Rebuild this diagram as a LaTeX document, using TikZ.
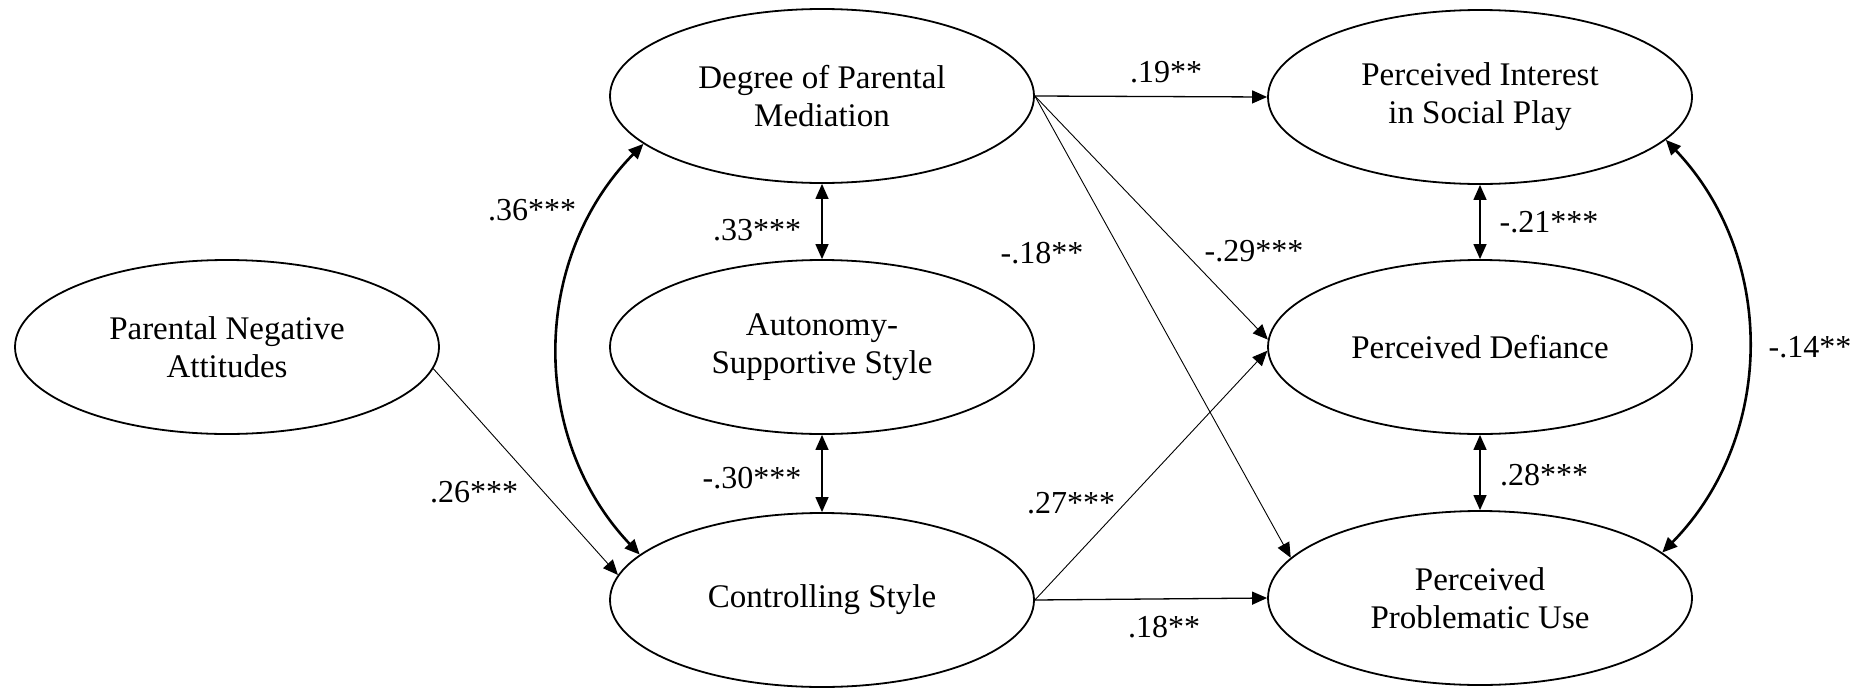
\documentclass[tikz,border=0pt]{standalone}
\usepackage{fontspec}
\setmainfont{Liberation Serif}
\usetikzlibrary{shapes.geometric, arrows.meta}

\tikzset{
  latent/.style={ellipse, draw, line width=1.8pt, minimum width=424pt, minimum height=174pt,
    inner sep=0pt, align=center, font=\fontsize{33}{38}\selectfont},
  coef/.style={font=\fontsize{32}{36}\selectfont, inner sep=0pt},
  regr/.style={->, line width=1.3pt},
  diag/.style={->, line width=0.9pt},
  corr/.style={<->, line width=1.3pt},
  bigcorr/.style={<->, line width=2.6pt},
}

\begin{document}
\begin{tikzpicture}[x=1pt, y=-1pt, >={Triangle[length=15pt, width=13pt]}]
\useasboundingbox (0,0) rectangle (1872,691);

% latente Variablen
\node[latent] (pna)  at (227,347)  {Parental Negative\\Attitudes};
\node[latent] (dpm)  at (822,96)   {Degree of Parental\\Mediation};
\node[latent] (ass)  at (822,347)  {Autonomy-\\Supportive Style};
\node[latent] (ctl)  at (822,600)  {Controlling Style};
\node[latent] (pisp) at (1480,97)  {Perceived Interest\\in Social Play};
\node[latent] (pdf)  at (1480,347) {Perceived Defiance};
\node[latent] (ppu)  at (1480,598) {Perceived\\Problematic Use};

% Regressionspfade
\draw[regr] (dpm.east) -- (pisp.west);
\draw[diag] (dpm.east) -- (pdf.178);
\draw[diag] (dpm.east) -- (ppu.168);
\draw[diag] (ctl.east) -- (pdf.181);
\draw[regr] (ctl.east) -- (ppu.west);
\draw[diag] (pna.-6) -- (ctl.173);

% Korrelationen
\draw[corr] (dpm.south) -- (ass.north);
\draw[corr] (ass.south) -- (ctl.north);
\draw[corr] (pisp.south) -- (pdf.north);
\draw[corr] (pdf.south) -- (ppu.north);
\draw[bigcorr] (dpm.195) to[bend right=44] (ctl.166);
\draw[bigcorr] (pisp.-13) to[bend left=44] (ppu.14);

% Koeffizienten
\node[coef] (c19)  at (1166,72)  {.19**};
\node[coef] (c29)  at (1254,251) {-.29***};
\node[coef] (c18a) at (1042,253) {-.18**};
\node[coef] (c27)  at (1071,503) {.27***};
\node[coef] (c18b) at (1164,627) {.18**};
\node[coef] (c26)  at (474,492)  {.26***};
\node[coef] (c36)  at (532,210)  {.36***};
\node[coef] (c33)  at (757,230)  {.33***};
\node[coef] (c30)  at (752,478)  {-.30***};
\node[coef] (c21)  at (1549,222) {-.21***};
\node[coef] (c28)  at (1544,475) {.28***};
\node[coef] (c14)  at (1810,347) {-.14**};

\end{tikzpicture}
\end{document}
